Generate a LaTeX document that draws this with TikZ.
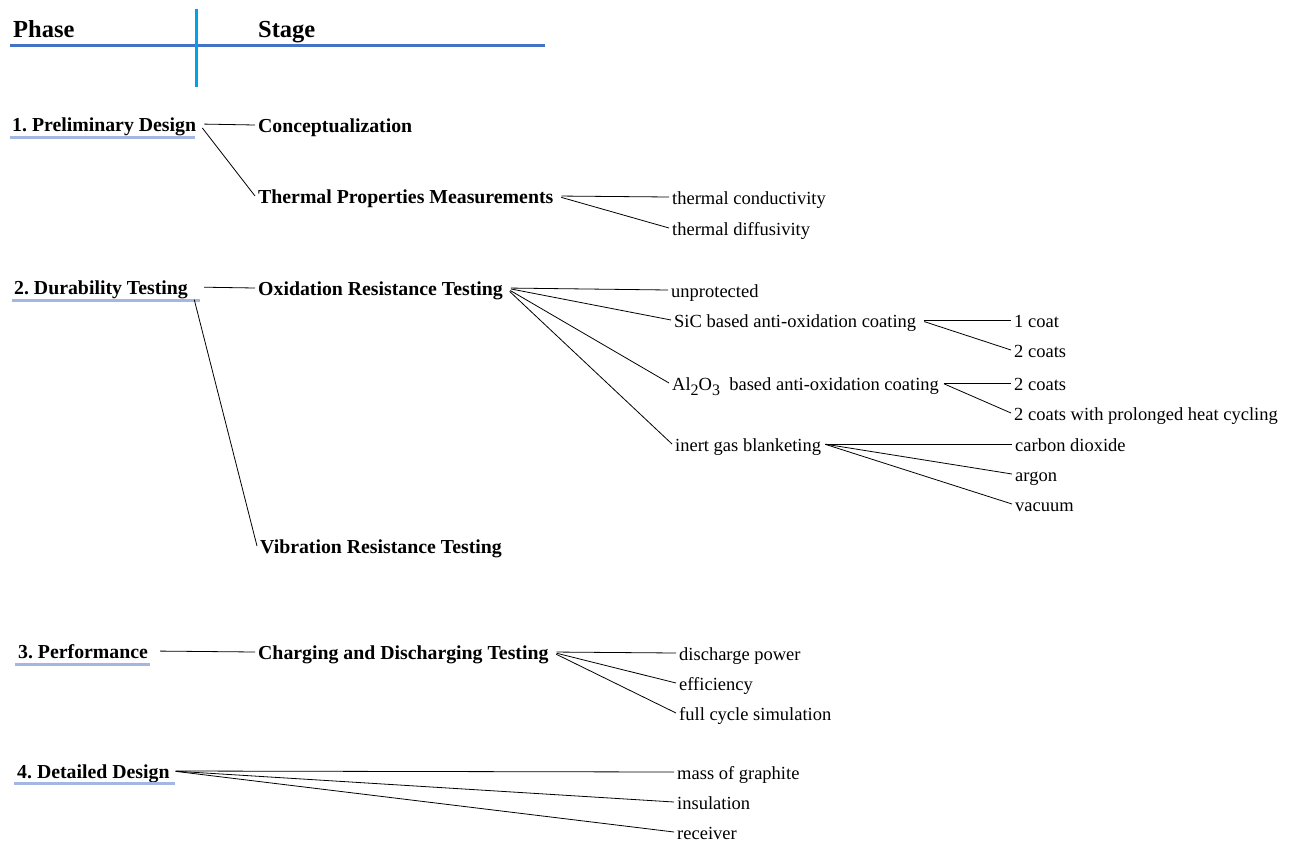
\documentclass[tikz,border=0pt]{standalone}
\usepackage{fontspec}
\setmainfont{Liberation Serif}
\frenchspacing
\definecolor{headblue}{HTML}{4472C4}
\definecolor{vcyan}{HTML}{00A2E8}
\definecolor{ulblue}{HTML}{A3B7E2}
\tikzset{
  base/.style={anchor=west, inner xsep=3pt, inner ysep=0pt, text height=14pt, text depth=0pt},
  header/.style={base, font=\fontsize{24.5}{28}\selectfont\bfseries},
  phase/.style={base, font=\fontsize{19.8}{22}\selectfont\bfseries},
  stage/.style={base, font=\fontsize{19.8}{22}\selectfont\bfseries},
  leaf/.style={base, font=\fontsize{18.5}{21}\selectfont},
  conn/.style={draw=black, line width=0.8pt, shorten <=5pt},
  uline/.style={draw=ulblue, line width=3pt},
}
\begin{document}
\begin{tikzpicture}[x=1pt,y=-1pt]
\useasboundingbox (0,0) rectangle (1291,841);
% header
\node[header] (hphase) at (10,30) {Phase};
\node[header] (hstage) at (255,30) {Stage};
\draw[headblue, line width=3pt] (10,45) -- (545,45);
\draw[vcyan, line width=3pt] (196,9) -- (196,87);
% phases
\node[phase] (p1) at (9,124) {1. Preliminary Design};
\node[phase] (p2) at (11,287) {2. Durability Testing};
\node[phase] (p3) at (15,651) {3. Performance};
\node[phase] (p4) at (14,771) {4. Detailed Design};
\draw[uline] (10,137) -- (195,137);
\draw[uline] (12,300) -- (200,300);
\draw[uline] (15,664) -- (150,664);
\draw[uline] (14,783) -- (175,783);
% stages
\node[stage] (s1) at (255,125) {Conceptualization};
\node[stage] (s2) at (255,196) {Thermal Properties Measurements};
\node[stage] (s3) at (255,288) {Oxidation Resistance Testing};
\node[stage] (s4) at (257,546) {Vibration Resistance Testing};
\node[stage] (s5) at (255,652) {Charging and Discharging Testing};
% leaves
\node[leaf] (tc) at (669,197) {thermal conductivity};
\node[leaf] (td) at (669,228) {thermal diffusivity};
\node[leaf] (un) at (668,290) {unprotected};
\node[leaf] (sic) at (671,320) {SiC based anti-oxidation coating};
\node[leaf] (al) at (669,383) {Al\raisebox{-0.6ex}{\fontsize{16}{16}\selectfont 2}O\raisebox{-0.6ex}{\fontsize{16}{16}\selectfont 3}\ \ based anti-oxidation coating};
\node[leaf] (ig) at (672,444) {inert gas blanketing};
\node[leaf] (c1) at (1011,320) {1 coat};
\node[leaf] (c2) at (1011,350) {2 coats};
\node[leaf] (c3) at (1011,383) {2 coats};
\node[leaf] (c4) at (1011,413) {2 coats with prolonged heat cycling};
\node[leaf] (co) at (1012,444) {carbon dioxide};
\node[leaf] (ar) at (1012,474) {argon};
\node[leaf] (va) at (1012,504) {vacuum};
\node[leaf] (dp) at (676,653) {discharge power};
\node[leaf] (ef) at (676,683) {efficiency};
\node[leaf] (fc) at (676,713) {full cycle simulation};
\node[leaf] (mg) at (674,772) {mass of graphite};
\node[leaf] (in) at (674,802) {insulation};
\node[leaf] (re) at (674,832) {receiver};
% connectors
\draw[conn] (p1.east) -- (s1.west);
\draw[conn] (p1.east) -- (s2.west);
\draw[conn, shorten <=13pt] (p2.east) -- (s3.west);
\draw[conn, shorten <=13pt] (p2.east) -- (s4.west);
\draw[conn, shorten <=9pt] (p3.east) -- (s5.west);
\draw[conn, shorten <=3pt] (p4.east) -- (mg.west);
\draw[conn, shorten <=3pt] (p4.east) -- (in.west);
\draw[conn, shorten <=3pt] (p4.east) -- (re.west);
\draw[conn] (s2.east) -- (tc.west);
\draw[conn] (s2.east) -- (td.west);
\draw[conn] (s3.east) -- (un.west);
\draw[conn] (s3.east) -- (sic.west);
\draw[conn] (s3.east) -- (al.west);
\draw[conn] (s3.east) -- (ig.west);
\draw[conn] (sic.east) -- (c1.west);
\draw[conn] (sic.east) -- (c2.west);
\draw[conn, shorten <=2pt] (al.east) -- (c3.west);
\draw[conn, shorten <=2pt] (al.east) -- (c4.west);
\draw[conn, shorten <=1pt] (ig.east) -- (co.west);
\draw[conn, shorten <=1pt] (ig.east) -- (ar.west);
\draw[conn, shorten <=1pt] (ig.east) -- (va.west);
\draw[conn] (s5.east) -- (dp.west);
\draw[conn] (s5.east) -- (ef.west);
\draw[conn] (s5.east) -- (fc.west);
\end{tikzpicture}
\end{document}
